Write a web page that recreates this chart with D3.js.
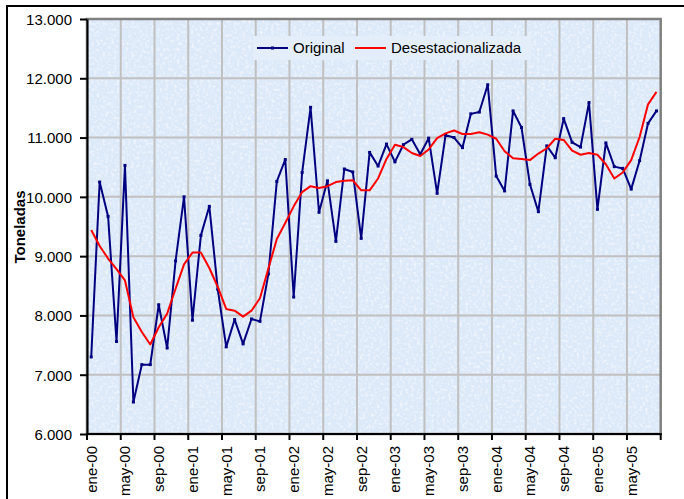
<!DOCTYPE html>
<html>
<head>
<meta charset="utf-8">
<script src="https://cdn.jsdelivr.net/npm/d3@7"></script>
<style>
  body { margin: 0; background: #fff; }
  svg { display: block; font-family: "Liberation Sans", Arial, sans-serif; }
</style>
</head>
<body>
<svg id="chart" width="684" height="499"></svg>
<script>
// Chart data (toneladas por mes, ene-00 .. ago-05)
const monthNames = ['ene', 'feb', 'mar', 'abr', 'may', 'jun', 'jul', 'ago', 'sep', 'oct', 'nov', 'dic'];
const years = ['00', '01', '02', '03', '04', '05'];
const lastMonthCount = 68;

const original = [
  7300, 10250, 9670, 7560, 10530, 6540, 7170, 7170, 8180, 7450, 8920, 10000,
  7920, 9350, 9840, 8440, 7470, 7930, 7520, 7940, 7900, 8700, 10260, 10630,
  8310, 10410, 11510, 9740, 10270, 9250, 10470, 10420, 9300, 10750, 10520, 10890,
  10590, 10880, 10970, 10720, 10990, 10060, 11040, 11000, 10830, 11400, 11430, 11890,
  10350, 10100, 11450, 11170, 10210, 9750, 10860, 10660, 11320, 10920, 10840, 11590,
  9790, 10910, 10510, 10480, 10130, 10610, 11240, 11450
];

const desestacionalizada = [
  9440, 9170, 8960, 8780, 8590, 7970, 7720, 7510, 7800, 8030, 8450, 8860,
  9060, 9060, 8800, 8480, 8110, 8080, 7980, 8080, 8290, 8790, 9290, 9560,
  9840, 10080, 10180, 10150, 10180, 10250, 10270, 10280, 10110, 10110, 10310, 10640,
  10880, 10840, 10740, 10690, 10800, 10990, 11070, 11120, 11060, 11060, 11090, 11050,
  10980, 10770, 10650, 10640, 10620, 10730, 10820, 10980, 10960, 10780, 10710, 10740,
  10710, 10550, 10310, 10410, 10620, 11010, 11560, 11770
];

const yTicks = [6000, 7000, 8000, 9000, 10000, 11000, 12000, 13000];
const tickEvery = 4;

// Month categories "ene-00" ... built from the names above
const categories = [];
years.forEach(yy => monthNames.forEach(m => categories.push(`${m}-${yy}`)));
categories.length = lastMonthCount;

// Layout
const PLOT = { left: 87, right: 660.7, top: 19, bottom: 434 };
const COLORS = {
  original: '#000080',
  desest: '#ff0000',
  grid: '#c0c0c0',
  plotBg: '#dce9f9',
  border: '#808080'
};

const svg = d3.select('#chart');

const x = d3.scaleBand()
  .domain(categories)
  .range([PLOT.left, PLOT.right])
  .padding(0);

const y = d3.scaleLinear()
  .domain([6000, 13000])
  .range([PLOT.bottom, PLOT.top]);

const locale = d3.formatLocale({ decimal: ',', thousands: '.', grouping: [3], currency: ['', ''] });
const fmt = locale.format(',.0f');

// Outer frame of the chart object
svg.append('rect')
  .attr('x', 7).attr('y', 6)
  .attr('width', 700).attr('height', 520)
  .attr('fill', 'none')
  .attr('stroke', '#000')
  .attr('stroke-width', 2);

// Speckled light blue plot background
const defs = svg.append('defs');
const filter = defs.append('filter').attr('id', 'speckle')
  .attr('x', 0).attr('y', 0).attr('width', 1).attr('height', 1);
filter.append('feTurbulence')
  .attr('type', 'fractalNoise')
  .attr('baseFrequency', 0.35)
  .attr('numOctaves', 2)
  .attr('seed', 3)
  .attr('result', 'noise');
filter.append('feColorMatrix')
  .attr('in', 'noise')
  .attr('type', 'matrix')
  .attr('values', '0 0 0 0 1  0 0 0 0 1  0 0 0 0 1  1.6 0 0 0 -0.75')
  .attr('result', 'white');
filter.append('feComposite')
  .attr('in', 'white')
  .attr('in2', 'SourceGraphic')
  .attr('operator', 'atop');

svg.append('rect')
  .attr('x', PLOT.left).attr('y', PLOT.top)
  .attr('width', PLOT.right - PLOT.left)
  .attr('height', PLOT.bottom - PLOT.top)
  .attr('fill', COLORS.plotBg)
  .attr('filter', 'url(#speckle)');

// Tick boundaries on the category axis (every 4 months plus the end)
const boundaries = categories.filter((c, i) => i % tickEvery === 0).map(c => x(c));
boundaries.push(PLOT.right);

// Gridlines
svg.append('g')
  .selectAll('line')
  .data(yTicks.slice(1, -1))
  .enter().append('line')
  .attr('x1', PLOT.left).attr('x2', PLOT.right)
  .attr('y1', d => y(d)).attr('y2', d => y(d))
  .attr('stroke', COLORS.grid)
  .attr('stroke-width', 2);

svg.append('g')
  .selectAll('line')
  .data(boundaries.slice(1, -1))
  .enter().append('line')
  .attr('x1', d => d).attr('x2', d => d)
  .attr('y1', PLOT.top).attr('y2', PLOT.bottom)
  .attr('stroke', COLORS.grid)
  .attr('stroke-width', 2);

// Plot border (grey top/right)
svg.append('rect')
  .attr('x', PLOT.left).attr('y', PLOT.top)
  .attr('width', PLOT.right - PLOT.left)
  .attr('height', PLOT.bottom - PLOT.top)
  .attr('fill', 'none')
  .attr('stroke', COLORS.border)
  .attr('stroke-width', 2.5);

// Y axis
const yAxis = svg.append('g')
  .attr('transform', `translate(${PLOT.left},0)`)
  .call(d3.axisLeft(y).tickValues(yTicks).tickFormat(fmt).tickSizeInner(7).tickSizeOuter(0).tickPadding(8));
yAxis.select('.domain').attr('stroke', '#000').attr('stroke-width', 2);
yAxis.selectAll('.tick line').attr('stroke', '#000').attr('stroke-width', 2);
yAxis.selectAll('.tick text')
  .attr('fill', '#000')
  .style('font-size', '15px')
  .attr('dy', '0.36em');

// X axis: labels centred on category, ticks on boundaries
const xAxis = svg.append('g')
  .attr('transform', `translate(0,${PLOT.bottom})`)
  .call(d3.axisBottom(x)
    .tickValues(categories.filter((c, i) => i % tickEvery === 0))
    .tickSize(0));
xAxis.select('.domain').remove();
xAxis.selectAll('.tick text')
  .attr('fill', '#000')
  .style('font-size', '15px')
  .attr('text-anchor', 'end')
  .attr('transform', 'rotate(-90)')
  .attr('x', -12)
  .attr('y', 0)
  .attr('dy', '0.36em');

svg.append('line')
  .attr('x1', PLOT.left - 1).attr('x2', PLOT.right + 1)
  .attr('y1', PLOT.bottom).attr('y2', PLOT.bottom)
  .attr('stroke', '#000')
  .attr('stroke-width', 2);

svg.append('g')
  .selectAll('line')
  .data(boundaries)
  .enter().append('line')
  .attr('x1', d => d).attr('x2', d => d)
  .attr('y1', PLOT.bottom).attr('y2', PLOT.bottom + 6)
  .attr('stroke', '#000')
  .attr('stroke-width', 2);

// Axis title
svg.append('text')
  .attr('transform', 'translate(25,227) rotate(-90)')
  .attr('text-anchor', 'middle')
  .style('font-size', '15px')
  .style('font-weight', 'bold')
  .text('Toneladas');

// Series lines
const line = d3.line()
  .x((d, i) => x(categories[i]) + x.bandwidth() / 2)
  .y(d => y(d));

svg.append('path')
  .datum(original)
  .attr('fill', 'none')
  .attr('stroke', COLORS.original)
  .attr('stroke-width', 2)
  .attr('stroke-linejoin', 'round')
  .attr('d', line);

svg.append('g')
  .selectAll('rect')
  .data(original)
  .enter().append('rect')
  .attr('x', (d, i) => x(categories[i]) + x.bandwidth() / 2 - 1.5)
  .attr('y', d => y(d) - 1.5)
  .attr('width', 3).attr('height', 3)
  .attr('fill', COLORS.original);

svg.append('path')
  .datum(desestacionalizada)
  .attr('fill', 'none')
  .attr('stroke', COLORS.desest)
  .attr('stroke-width', 2)
  .attr('stroke-linejoin', 'round')
  .attr('d', line);

// Legend
const legend = svg.append('g');
legend.append('rect')
  .attr('x', 253).attr('y', 36)
  .attr('width', 278).attr('height', 24)
  .attr('fill', '#e4eefb');

const legendItems = [
  { name: 'Original', color: COLORS.original, x: 257, marker: true },
  { name: 'Desestacionalizada', color: COLORS.desest, x: 355, marker: false }
];
legendItems.forEach(item => {
  legend.append('line')
    .attr('x1', item.x).attr('x2', item.x + 31)
    .attr('y1', 48).attr('y2', 48)
    .attr('stroke', item.color)
    .attr('stroke-width', 2);
  if (item.marker) {
    legend.append('rect')
      .attr('x', item.x + 14).attr('y', 46.5)
      .attr('width', 3).attr('height', 3)
      .attr('fill', item.color);
  }
  legend.append('text')
    .attr('x', item.x + 36).attr('y', 48)
    .attr('dy', '0.36em')
    .style('font-size', '15px')
    .text(item.name);
});
</script>
</body>
</html>
